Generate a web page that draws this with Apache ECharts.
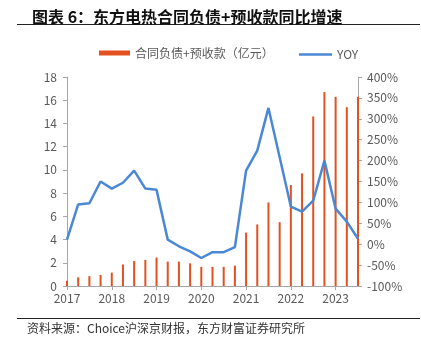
<!DOCTYPE html>
<html>
<head>
<meta charset="utf-8">
<script src="https://cdn.jsdelivr.net/npm/echarts@6/dist/echarts.min.js"></script>
<style>
  html, body { margin: 0; padding: 0; background: #fff; }
  #chart { width: 421px; height: 354px; }
</style>
</head>
<body>
<div id="chart"></div>
<script>
// 季度（2017Q1 - 2023Q3）
var quarters = ['2017Q1','2017Q2','2017Q3','2017Q4','2018Q1','2018Q2','2018Q3','2018Q4',
  '2019Q1','2019Q2','2019Q3','2019Q4','2020Q1','2020Q2','2020Q3','2020Q4',
  '2021Q1','2021Q2','2021Q3','2021Q4','2022Q1','2022Q2','2022Q3','2022Q4',
  '2023Q1','2023Q2','2023Q3'];
// 合同负债+预收款（亿元）
var contractDebt = [0.45,0.75,0.85,0.95,1.15,1.85,2.15,2.25,2.45,2.1,2.1,1.95,1.65,1.65,1.65,1.75,
  4.6,5.3,7.2,5.5,8.7,9.7,14.6,16.7,16.3,15.4,16.3];
// YOY（%）
var yoy = [11,95,98,150,133,147,176,133,130,11,-5,-17,-33,-19,-19,-7,
  176,224,326,208,90,78,104,200,85,54,13];

var gray = '#595959';
var axisGray = '#A6A6A6';
var barColor = '#E2511F';
var lineColor = '#4A88D6';
var font = '"Noto Sans CJK SC", "Liberation Sans", sans-serif';

var chart = echarts.init(document.getElementById('chart'));
chart.setOption({
  animation: false,
  textStyle: { fontFamily: font },
  title: {
    text: '图表 6：东方电热合同负债+预收款同比增速',
    left: 27, top: 4,
    textStyle: { fontSize: 16, fontWeight: 'bold', color: '#111', fontFamily: font }
  },
  // 两个图例：柱子用粗矩形，折线用细线
  legend: [
    {
      top: 42, left: 94,
      itemWidth: 31, itemHeight: 5,
      icon: 'rect',
      textStyle: { color: gray, fontSize: 12 },
      data: ['合同负债+预收款（亿元）']
    },
    {
      top: 43.5, left: 294,
      itemWidth: 33, itemHeight: 2.5,
      icon: 'rect',
      textStyle: { color: gray, fontSize: 12 },
      data: ['YOY']
    }
  ],
  grid: { left: 67, right: 63, top: 77, bottom: 68 },
  xAxis: {
    type: 'category',
    data: quarters,
    boundaryGap: false,
    axisLine: { lineStyle: { color: axisGray } },
    axisTick: { interval: 3, length: 4, lineStyle: { color: axisGray } },
    axisLabel: {
      interval: 3, color: gray, fontSize: 12, margin: 6,
      formatter: function (v) { return v.slice(0, 4); }
    }
  },
  yAxis: [
    {
      type: 'value', min: 0, max: 18, interval: 2,
      axisLine: { show: true, lineStyle: { color: axisGray } },
      axisTick: { show: true, length: 4, lineStyle: { color: axisGray } },
      splitLine: { show: false },
      axisLabel: { color: gray, fontSize: 12, margin: 10 }
    },
    {
      type: 'value', min: -100, max: 400, interval: 50,
      axisLine: { show: true, lineStyle: { color: axisGray } },
      axisTick: { show: true, length: 4, lineStyle: { color: axisGray } },
      splitLine: { show: false },
      axisLabel: { color: gray, fontSize: 12, margin: 9, formatter: '{value}%' }
    }
  ],
  series: [
    {
      name: '合同负债+预收款（亿元）',
      type: 'bar',
      data: contractDebt,
      barWidth: 2,
      itemStyle: { color: barColor }
    },
    {
      name: 'YOY',
      type: 'line',
      yAxisIndex: 1,
      data: yoy,
      symbol: 'none',
      lineStyle: { color: lineColor, width: 2.5 },
      itemStyle: { color: lineColor }
    }
  ],
  graphic: [
    { type: 'line', shape: { x1: 17, y1: 24.5, x2: 420, y2: 24.5 }, style: { stroke: '#222', lineWidth: 1 } },
    { type: 'line', shape: { x1: 17, y1: 318.5, x2: 420, y2: 318.5 }, style: { stroke: '#222', lineWidth: 1 } },
    {
      type: 'text', left: 27, top: 322,
      style: { text: '资料来源：Choice沪深京财报，东方财富证券研究所', fill: '#333', fontSize: 12, fontFamily: font }
    }
  ]
});
</script>
</body>
</html>
